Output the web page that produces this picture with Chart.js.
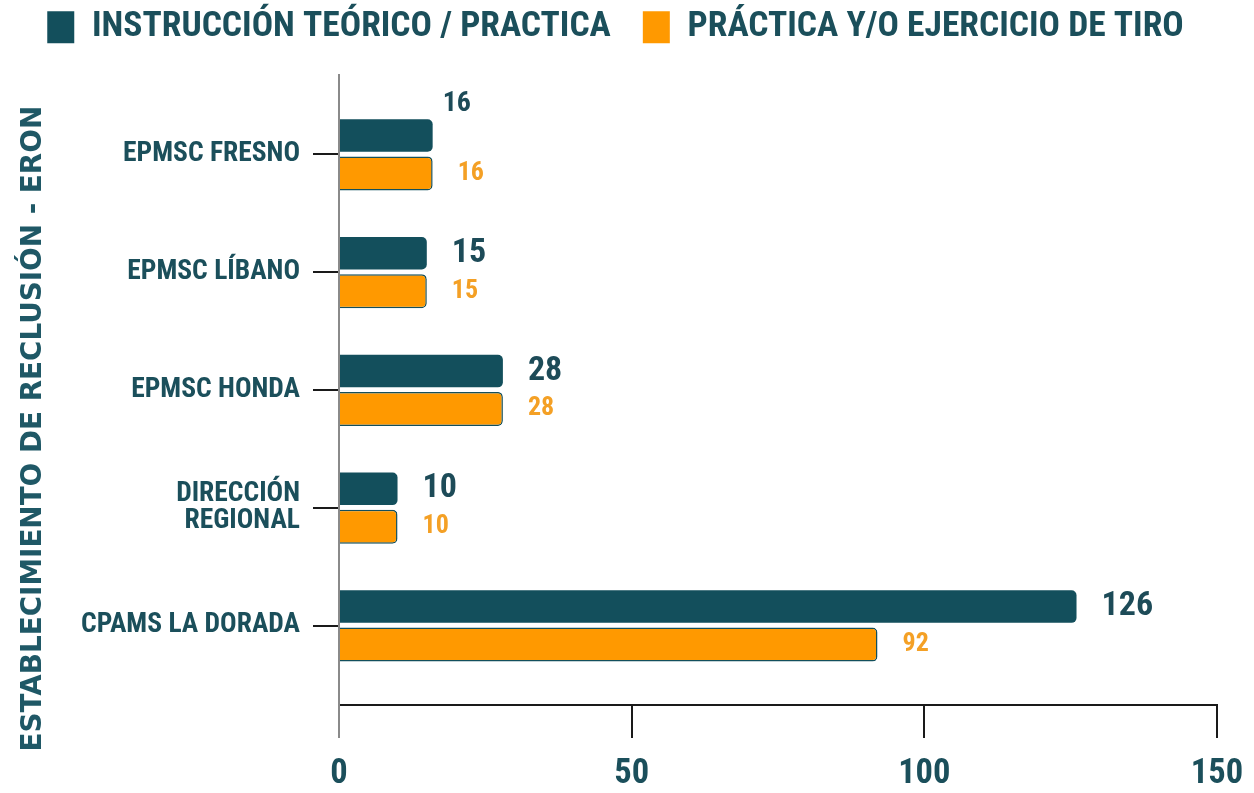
<!DOCTYPE html>
<html>
<head>
<meta charset="utf-8">
<script src="https://cdn.jsdelivr.net/npm/chart.js@4.4.1/dist/chart.umd.min.js"></script>
<style>
  html, body { margin: 0; padding: 0; background: #ffffff; }
  #c { display: block; }
</style>
</head>
<body>
<canvas id="c" width="1254" height="793"></canvas>
<script>
// ---- data ----
const categories = ['EPMSC FRESNO', 'EPMSC LÍBANO', 'EPMSC HONDA', ['DIRECCIÓN', 'REGIONAL'], 'CPAMS LA DORADA'];
const seriesNames = ['INSTRUCCIÓN TEÓRICO / PRACTICA', 'PRÁCTICA Y/O EJERCICIO DE TIRO'];
const instruccion = [16, 15, 28, 10, 126];
const practica = [16, 15, 28, 10, 92];
const xTicks = [0, 50, 100, 150];
const yTitle = 'ESTABLECIMIENTO DE RECLUSIÓN - ERON';

// ---- styles ----
const NARROW = '"Roboto Condensed", "DejaVu Sans Condensed", sans-serif';
const TEAL = '#134f5c';
const ORANGE = '#ff9900';
const TEXT = '#1b4f5b';
const LABEL_ORANGE = '#f4a025';

const labelStyle = [
  { color: '#1d4b58', size: 34 },
  { color: LABEL_ORANGE, size: 26 }
];
const labelGap = 25;
const labelOverrides = [{ dataset: 0, index: 0, dx: 10, dy: -31, size: 28 }];

const barLabels = {
  id: 'barLabels',
  afterDatasetsDraw(chart) {
    const ctx = chart.ctx;
    chart.data.datasets.forEach((ds, di) => {
      const meta = chart.getDatasetMeta(di);
      meta.data.forEach((bar, i) => {
        const st = labelStyle[di];
        let dx = labelGap, dy = 0, size = st.size;
        const ov = labelOverrides.find(o => o.dataset === di && o.index === i);
        if (ov) { dx = ov.dx; dy = ov.dy; size = ov.size; }
        ctx.save();
        ctx.font = 'bold ' + size + 'px ' + NARROW;
        ctx.fillStyle = st.color;
        ctx.textAlign = 'left';
        ctx.textBaseline = 'middle';
        ctx.fillText(String(ds.data[i].x), bar.x + dx, bar.y + dy);
        ctx.restore();
      });
    });
  }
};

function build() {
  const ctx = document.getElementById('c').getContext('2d');
  new Chart(ctx, {
    type: 'bar',
    data: {
      datasets: [
        {
          label: seriesNames[0],
          data: instruccion.map((v, i) => ({ x: v, y: i })),
          xAxisID: 'x', yAxisID: 'y',
          backgroundColor: TEAL, borderColor: TEAL, borderWidth: 0,
          borderRadius: 5, borderSkipped: 'start',
          categoryPercentage: 0.645, barPercentage: 0.86
        },
        {
          label: seriesNames[1],
          data: practica.map((v, i) => ({ x: v, y: i })),
          xAxisID: 'x', yAxisID: 'y',
          backgroundColor: ORANGE, borderColor: TEAL, borderWidth: 1.5,
          borderRadius: 5, borderSkipped: 'start',
          categoryPercentage: 0.645, barPercentage: 0.9
        }
      ]
    },
    options: {
      indexAxis: 'y',
      responsive: false,
      animation: false,
      devicePixelRatio: 1,
      layout: { padding: { left: 14, right: 37, top: -22.5, bottom: 0 } },
      plugins: {
        tooltip: { enabled: false },
        legend: {
          position: 'top',
          labels: {
            font: { family: NARROW, size: 35.5, weight: 'bold' },
            color: TEXT,
            boxWidth: 27,
            boxHeight: 32,
            padding: 32,
            generateLabels(chart) {
              return Chart.defaults.plugins.legend.labels.generateLabels(chart)
                .map(l => Object.assign(l, { lineWidth: 0, strokeStyle: l.fillStyle }));
            }
          }
        }
      },
      scales: {
        x: {
          type: 'linear', position: 'bottom', min: 0, max: 150,
          afterBuildTicks(s) { s.ticks = xTicks.map(v => ({ value: v })); },
          ticks: { font: { family: NARROW, size: 34.5, weight: 'bold' }, color: TEXT, padding: 16 },
          grid: {
            drawOnChartArea: false, tickLength: 33, lineWidth: 2,
            color: (c) => (c.tick && c.tick.value === 0) ? '#8a8a8a' : '#1a1a1a'
          },
          border: { color: '#1a1a1a', width: 2 },
          afterFit(s) { s.height = 88; s.paddingLeft = 0; s.paddingRight = 0; }
        },
        y: {
          type: 'linear', reverse: true, min: -0.675, max: 4.675,
          offset: false,
          afterBuildTicks(s) { s.ticks = categories.map((_, i) => ({ value: i })); },
          ticks: {
            autoSkip: false,
            callback: (v) => categories[v],
            font: { family: NARROW, size: 27.5, weight: 'bold', lineHeight: 1.0 },
            color: TEXT, padding: 13
          },
          grid: { offset: false, drawOnChartArea: false, tickLength: 26, lineWidth: 2, color: '#1a1a1a' },
          border: { color: '#8a8a8a', width: 2 },
          title: {
            display: true,
            text: yTitle + '\u00a0\u00a0\u00a0\u00a0\u00a0\u00a0\u00a0\u00a0',
            font: { family: '"DejaVu Sans", sans-serif', size: 27.8, weight: 'bold' },
            color: '#1f5866',
            padding: { top: 3, bottom: 0 }
          },
          afterFit(s) { s.width = 325; }
        },
        xTop: {
          type: 'linear', position: 'top', display: true,
          grid: { display: false }, border: { display: false }, ticks: { display: false },
          afterFit(s) { s.height = 20; }
        }
      }
    },
    plugins: [barLabels]
  });
}

const fontLoads = [
  'bold 27px "Roboto Condensed"',
  'bold 27px "DejaVu Sans"'
].map(f => document.fonts.load(f).catch(() => null));
Promise.all(fontLoads).then(build, build);
</script>
</body>
</html>
